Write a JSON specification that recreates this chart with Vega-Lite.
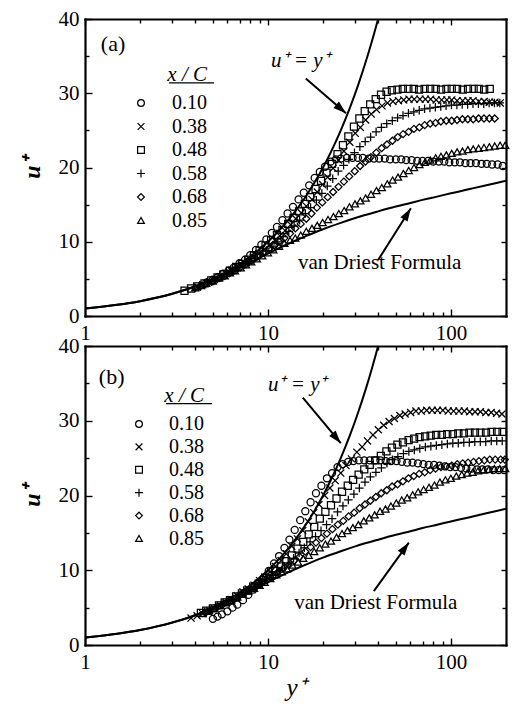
{
"$schema":"https://vega.github.io/schema/vega-lite/v6.json",
"background":"white",
"padding":{"left":20,"top":8,"right":8,"bottom":8},
"width":421,"height":626,
"datasets":{
"curves":[
{"c":"vd","y":1,"u":1.0},{"c":"vd","y":1.5,"u":1.5},{"c":"vd","y":2,"u":2.0},{"c":"vd","y":3,"u":2.99},{"c":"vd","y":4,"u":3.95},{"c":"vd","y":5,"u":4.88},{"c":"vd","y":6,"u":5.74},{"c":"vd","y":7,"u":6.52},{"c":"vd","y":8,"u":7.23},{"c":"vd","y":9,"u":7.86},{"c":"vd","y":10,"u":8.42},{"c":"vd","y":11,"u":8.91},{"c":"vd","y":12,"u":9.36},{"c":"vd","y":13,"u":9.76},{"c":"vd","y":14,"u":10.11},{"c":"vd","y":15,"u":10.44},{"c":"vd","y":16,"u":10.73},{"c":"vd","y":18,"u":11.25},{"c":"vd","y":20,"u":11.69},{"c":"vd","y":25,"u":12.54},{"c":"vd","y":30,"u":13.19},{"c":"vd","y":40,"u":14.09},{"c":"vd","y":50,"u":14.74},{"c":"vd","y":60,"u":15.22},{"c":"vd","y":70,"u":15.64},{"c":"vd","y":85,"u":16.11},{"c":"vd","y":100,"u":16.53},{"c":"vd","y":125,"u":17.06},{"c":"vd","y":150,"u":17.52},{"c":"vd","y":175,"u":17.89},{"c":"vd","y":200,"u":18.22},
{"c":"lin","y":1,"u":1},{"c":"lin","y":1.5,"u":1.5},{"c":"lin","y":2,"u":2},{"c":"lin","y":3,"u":3},{"c":"lin","y":4,"u":4},{"c":"lin","y":5,"u":5},{"c":"lin","y":6,"u":6},{"c":"lin","y":7,"u":7},{"c":"lin","y":8,"u":8},{"c":"lin","y":10,"u":10},{"c":"lin","y":12,"u":12},{"c":"lin","y":14,"u":14},{"c":"lin","y":16,"u":16},{"c":"lin","y":18,"u":18},{"c":"lin","y":20,"u":20},{"c":"lin","y":22,"u":22},{"c":"lin","y":25,"u":25},{"c":"lin","y":28,"u":28},{"c":"lin","y":31,"u":31},{"c":"lin","y":34,"u":34},{"c":"lin","y":37,"u":37},{"c":"lin","y":40,"u":40}
],
"a":[
{"s":"0.10","y":4.6,"u":4.5},{"s":"0.10","y":5,"u":4.9},{"s":"0.10","y":5.3,"u":5.2},{"s":"0.10","y":5.7,"u":5.7},{"s":"0.10","y":6.1,"u":6.1},{"s":"0.10","y":6.5,"u":6.5},{"s":"0.10","y":7,"u":7.1},{"s":"0.10","y":7.5,"u":7.6},{"s":"0.10","y":8,"u":8.2},{"s":"0.10","y":8.6,"u":8.9},{"s":"0.10","y":9.2,"u":9.6},{"s":"0.10","y":9.8,"u":10.3},{"s":"0.10","y":10.5,"u":11.2},{"s":"0.10","y":11.2,"u":12.0},{"s":"0.10","y":12,"u":12.9},{"s":"0.10","y":12.8,"u":13.8},{"s":"0.10","y":13.7,"u":14.7},{"s":"0.10","y":14.7,"u":15.7},{"s":"0.10","y":15.7,"u":16.6},{"s":"0.10","y":16.8,"u":17.6},{"s":"0.10","y":18,"u":18.6},{"s":"0.10","y":19.2,"u":19.4},{"s":"0.10","y":20.5,"u":20.1},{"s":"0.10","y":22,"u":20.8},{"s":"0.10","y":23.5,"u":21.1},{"s":"0.10","y":25,"u":21.2},{"s":"0.10","y":27,"u":21.3},{"s":"0.10","y":29,"u":21.3},{"s":"0.10","y":31,"u":21.3},{"s":"0.10","y":33,"u":21.3},{"s":"0.10","y":35.5,"u":21.2},{"s":"0.10","y":38,"u":21.2},{"s":"0.10","y":40.5,"u":21.2},{"s":"0.10","y":43.5,"u":21.2},{"s":"0.10","y":46.5,"u":21.1},{"s":"0.10","y":50,"u":21.1},{"s":"0.10","y":53.5,"u":21.1},{"s":"0.10","y":57,"u":21.0},{"s":"0.10","y":61,"u":21.0},{"s":"0.10","y":65.5,"u":20.9},{"s":"0.10","y":70,"u":20.9},{"s":"0.10","y":75,"u":20.9},{"s":"0.10","y":80,"u":20.8},{"s":"0.10","y":86,"u":20.8},{"s":"0.10","y":92,"u":20.8},{"s":"0.10","y":98,"u":20.7},{"s":"0.10","y":105,"u":20.7},{"s":"0.10","y":112,"u":20.7},{"s":"0.10","y":120,"u":20.6},{"s":"0.10","y":128,"u":20.6},{"s":"0.10","y":137,"u":20.6},{"s":"0.10","y":147,"u":20.5},{"s":"0.10","y":157,"u":20.5},{"s":"0.10","y":168,"u":20.4},{"s":"0.10","y":180,"u":20.4},{"s":"0.10","y":192,"u":20.2},
{"s":"0.38","y":4.1,"u":3.9},{"s":"0.38","y":4.4,"u":4.2},{"s":"0.38","y":4.8,"u":4.6},{"s":"0.38","y":5.1,"u":4.9},{"s":"0.38","y":5.5,"u":5.3},{"s":"0.38","y":5.9,"u":5.7},{"s":"0.38","y":6.3,"u":6.1},{"s":"0.38","y":6.8,"u":6.5},{"s":"0.38","y":7.2,"u":6.9},{"s":"0.38","y":7.8,"u":7.4},{"s":"0.38","y":8.3,"u":7.9},{"s":"0.38","y":8.9,"u":8.4},{"s":"0.38","y":9.5,"u":8.9},{"s":"0.38","y":10.2,"u":9.6},{"s":"0.38","y":10.9,"u":10.2},{"s":"0.38","y":11.6,"u":10.8},{"s":"0.38","y":12.4,"u":11.5},{"s":"0.38","y":13.3,"u":12.3},{"s":"0.38","y":14.2,"u":13.1},{"s":"0.38","y":15.2,"u":13.9},{"s":"0.38","y":16.2,"u":14.8},{"s":"0.38","y":17.4,"u":15.7},{"s":"0.38","y":18.6,"u":16.7},{"s":"0.38","y":19.9,"u":17.7},{"s":"0.38","y":21.2,"u":18.7},{"s":"0.38","y":22.7,"u":19.9},{"s":"0.38","y":24.3,"u":21.0},{"s":"0.38","y":26,"u":22.2},{"s":"0.38","y":28,"u":23.4},{"s":"0.38","y":30,"u":24.6},{"s":"0.38","y":32,"u":25.4},{"s":"0.38","y":34.2,"u":26.4},{"s":"0.38","y":36.7,"u":27.2},{"s":"0.38","y":39.2,"u":27.8},{"s":"0.38","y":42,"u":28.3},{"s":"0.38","y":45,"u":28.7},{"s":"0.38","y":48.2,"u":28.9},{"s":"0.38","y":51.7,"u":29.0},{"s":"0.38","y":55.2,"u":29.1},{"s":"0.38","y":59,"u":29.2},{"s":"0.38","y":63,"u":29.2},{"s":"0.38","y":67.7,"u":29.2},{"s":"0.38","y":72.5,"u":29.2},{"s":"0.38","y":77.5,"u":29.2},{"s":"0.38","y":83,"u":29.1},{"s":"0.38","y":89,"u":29.1},{"s":"0.38","y":95,"u":29.1},{"s":"0.38","y":101,"u":29.1},{"s":"0.38","y":108,"u":29.0},{"s":"0.38","y":116,"u":29.0},{"s":"0.38","y":124,"u":29.0},{"s":"0.38","y":132,"u":29.0},{"s":"0.38","y":142,"u":28.9},{"s":"0.38","y":152,"u":28.9},{"s":"0.38","y":162,"u":28.8},{"s":"0.38","y":174,"u":28.8},{"s":"0.38","y":186,"u":28.7},
{"s":"0.48","y":3.5,"u":3.4},{"s":"0.48","y":3.8,"u":3.7},{"s":"0.48","y":4.1,"u":4.0},{"s":"0.48","y":4.5,"u":4.4},{"s":"0.48","y":4.9,"u":4.8},{"s":"0.48","y":5.3,"u":5.2},{"s":"0.48","y":5.7,"u":5.6},{"s":"0.48","y":6.2,"u":6.1},{"s":"0.48","y":6.7,"u":6.6},{"s":"0.48","y":7.2,"u":7.0},{"s":"0.48","y":7.8,"u":7.6},{"s":"0.48","y":8.4,"u":8.2},{"s":"0.48","y":9,"u":8.8},{"s":"0.48","y":9.7,"u":9.5},{"s":"0.48","y":10.4,"u":10.2},{"s":"0.48","y":11.2,"u":10.9},{"s":"0.48","y":12,"u":11.6},{"s":"0.48","y":12.9,"u":12.4},{"s":"0.48","y":13.8,"u":13.2},{"s":"0.48","y":14.8,"u":14.1},{"s":"0.48","y":15.9,"u":15.1},{"s":"0.48","y":17,"u":16.0},{"s":"0.48","y":18.2,"u":17.1},{"s":"0.48","y":19.5,"u":18.2},{"s":"0.48","y":20.9,"u":19.3},{"s":"0.48","y":22.4,"u":20.5},{"s":"0.48","y":24,"u":21.8},{"s":"0.48","y":25.7,"u":23.0},{"s":"0.48","y":27.5,"u":24.2},{"s":"0.48","y":29.5,"u":25.5},{"s":"0.48","y":31.6,"u":26.6},{"s":"0.48","y":33.8,"u":27.6},{"s":"0.48","y":36.2,"u":28.5},{"s":"0.48","y":38.8,"u":29.2},{"s":"0.48","y":41.5,"u":29.8},{"s":"0.48","y":44.5,"u":30.2},{"s":"0.48","y":47.6,"u":30.4},{"s":"0.48","y":51,"u":30.5},{"s":"0.48","y":54.6,"u":30.6},{"s":"0.48","y":58.5,"u":30.6},{"s":"0.48","y":62.6,"u":30.6},{"s":"0.48","y":67,"u":30.5},{"s":"0.48","y":71.8,"u":30.6},{"s":"0.48","y":77,"u":30.6},{"s":"0.48","y":82.5,"u":30.6},{"s":"0.48","y":88.3,"u":30.5},{"s":"0.48","y":94.5,"u":30.6},{"s":"0.48","y":101,"u":30.6},{"s":"0.48","y":108,"u":30.6},{"s":"0.48","y":116,"u":30.5},{"s":"0.48","y":124,"u":30.6},{"s":"0.48","y":133,"u":30.6},{"s":"0.48","y":142,"u":30.6},{"s":"0.48","y":152,"u":30.5},{"s":"0.48","y":163,"u":30.6},
{"s":"0.58","y":4.2,"u":4.0},{"s":"0.58","y":4.5,"u":4.3},{"s":"0.58","y":4.9,"u":4.6},{"s":"0.58","y":5.2,"u":4.9},{"s":"0.58","y":5.6,"u":5.3},{"s":"0.58","y":6,"u":5.7},{"s":"0.58","y":6.4,"u":6.0},{"s":"0.58","y":6.9,"u":6.5},{"s":"0.58","y":7.4,"u":6.9},{"s":"0.58","y":7.9,"u":7.3},{"s":"0.58","y":8.5,"u":7.8},{"s":"0.58","y":9.1,"u":8.3},{"s":"0.58","y":9.8,"u":8.8},{"s":"0.58","y":10.5,"u":9.4},{"s":"0.58","y":11.3,"u":10.0},{"s":"0.58","y":12.1,"u":10.7},{"s":"0.58","y":13,"u":11.4},{"s":"0.58","y":13.9,"u":12.1},{"s":"0.58","y":14.9,"u":12.9},{"s":"0.58","y":16,"u":13.8},{"s":"0.58","y":17.1,"u":14.6},{"s":"0.58","y":18.4,"u":15.6},{"s":"0.58","y":19.7,"u":16.5},{"s":"0.58","y":21.1,"u":17.5},{"s":"0.58","y":22.6,"u":18.5},{"s":"0.58","y":24.2,"u":19.5},{"s":"0.58","y":25.9,"u":20.3},{"s":"0.58","y":27.7,"u":21.1},{"s":"0.58","y":29.7,"u":22.0},{"s":"0.58","y":31.8,"u":22.8},{"s":"0.58","y":34,"u":23.5},{"s":"0.58","y":36.4,"u":24.1},{"s":"0.58","y":39,"u":24.8},{"s":"0.58","y":41.7,"u":25.4},{"s":"0.58","y":44.6,"u":25.9},{"s":"0.58","y":47.8,"u":26.3},{"s":"0.58","y":51.1,"u":26.7},{"s":"0.58","y":54.7,"u":27.0},{"s":"0.58","y":58.6,"u":27.3},{"s":"0.58","y":62.7,"u":27.5},{"s":"0.58","y":67.1,"u":27.7},{"s":"0.58","y":71.8,"u":27.9},{"s":"0.58","y":76.8,"u":28.0},{"s":"0.58","y":82.2,"u":28.1},{"s":"0.58","y":88,"u":28.2},{"s":"0.58","y":94.1,"u":28.3},{"s":"0.58","y":100.7,"u":28.4},{"s":"0.58","y":107.8,"u":28.4},{"s":"0.58","y":115.3,"u":28.5},{"s":"0.58","y":123.4,"u":28.5},{"s":"0.58","y":132,"u":28.6},{"s":"0.58","y":141.3,"u":28.6},{"s":"0.58","y":151.2,"u":28.6},{"s":"0.58","y":161.8,"u":28.7},{"s":"0.58","y":173,"u":28.7},{"s":"0.58","y":185,"u":28.7},
{"s":"0.68","y":4,"u":3.8},{"s":"0.68","y":4.3,"u":4.1},{"s":"0.68","y":4.7,"u":4.5},{"s":"0.68","y":5,"u":4.7},{"s":"0.68","y":5.4,"u":5.1},{"s":"0.68","y":5.8,"u":5.4},{"s":"0.68","y":6.2,"u":5.8},{"s":"0.68","y":6.7,"u":6.2},{"s":"0.68","y":7.1,"u":6.6},{"s":"0.68","y":7.6,"u":7.0},{"s":"0.68","y":8.2,"u":7.5},{"s":"0.68","y":8.8,"u":8.0},{"s":"0.68","y":9.4,"u":8.5},{"s":"0.68","y":10.1,"u":9.0},{"s":"0.68","y":10.8,"u":9.5},{"s":"0.68","y":11.5,"u":10.0},{"s":"0.68","y":12.3,"u":10.5},{"s":"0.68","y":13.2,"u":11.1},{"s":"0.68","y":14.1,"u":11.8},{"s":"0.68","y":15.1,"u":12.4},{"s":"0.68","y":16.2,"u":13.1},{"s":"0.68","y":17.3,"u":13.8},{"s":"0.68","y":18.5,"u":14.6},{"s":"0.68","y":19.8,"u":15.3},{"s":"0.68","y":21.2,"u":16.0},{"s":"0.68","y":22.7,"u":16.7},{"s":"0.68","y":24.3,"u":17.4},{"s":"0.68","y":26,"u":18.1},{"s":"0.68","y":27.8,"u":18.8},{"s":"0.68","y":29.8,"u":19.5},{"s":"0.68","y":31.9,"u":20.2},{"s":"0.68","y":34.1,"u":20.8},{"s":"0.68","y":36.5,"u":21.4},{"s":"0.68","y":39.1,"u":22.0},{"s":"0.68","y":41.8,"u":22.6},{"s":"0.68","y":44.7,"u":23.1},{"s":"0.68","y":47.9,"u":23.6},{"s":"0.68","y":51.2,"u":24.1},{"s":"0.68","y":54.8,"u":24.5},{"s":"0.68","y":58.7,"u":24.8},{"s":"0.68","y":62.8,"u":25.2},{"s":"0.68","y":67.2,"u":25.4},{"s":"0.68","y":71.9,"u":25.7},{"s":"0.68","y":77,"u":25.9},{"s":"0.68","y":82.4,"u":26.0},{"s":"0.68","y":88.1,"u":26.2},{"s":"0.68","y":94.3,"u":26.3},{"s":"0.68","y":101,"u":26.3},{"s":"0.68","y":108,"u":26.4},{"s":"0.68","y":115.6,"u":26.5},{"s":"0.68","y":123.7,"u":26.5},{"s":"0.68","y":132.4,"u":26.5},{"s":"0.68","y":141.7,"u":26.6},{"s":"0.68","y":151.6,"u":26.6},{"s":"0.68","y":162.2,"u":26.6},{"s":"0.68","y":173.5,"u":26.6},
{"s":"0.85","y":4,"u":3.8},{"s":"0.85","y":4.3,"u":4.1},{"s":"0.85","y":4.6,"u":4.4},{"s":"0.85","y":5,"u":4.7},{"s":"0.85","y":5.4,"u":5.1},{"s":"0.85","y":5.8,"u":5.4},{"s":"0.85","y":6.2,"u":5.8},{"s":"0.85","y":6.6,"u":6.1},{"s":"0.85","y":7.1,"u":6.5},{"s":"0.85","y":7.6,"u":6.9},{"s":"0.85","y":8.1,"u":7.3},{"s":"0.85","y":8.7,"u":7.7},{"s":"0.85","y":9.3,"u":8.1},{"s":"0.85","y":10,"u":8.5},{"s":"0.85","y":10.7,"u":8.9},{"s":"0.85","y":11.5,"u":9.4},{"s":"0.85","y":12.3,"u":9.8},{"s":"0.85","y":13.2,"u":10.2},{"s":"0.85","y":14.1,"u":10.5},{"s":"0.85","y":15.1,"u":10.9},{"s":"0.85","y":16.2,"u":11.4},{"s":"0.85","y":17.4,"u":11.8},{"s":"0.85","y":18.6,"u":12.2},{"s":"0.85","y":19.9,"u":12.6},{"s":"0.85","y":21.3,"u":13.0},{"s":"0.85","y":22.8,"u":13.4},{"s":"0.85","y":24.4,"u":13.8},{"s":"0.85","y":26.1,"u":14.2},{"s":"0.85","y":27.9,"u":14.7},{"s":"0.85","y":29.9,"u":15.1},{"s":"0.85","y":32,"u":15.5},{"s":"0.85","y":34.2,"u":15.9},{"s":"0.85","y":36.6,"u":16.4},{"s":"0.85","y":39.2,"u":16.9},{"s":"0.85","y":41.9,"u":17.3},{"s":"0.85","y":44.9,"u":17.8},{"s":"0.85","y":48,"u":18.3},{"s":"0.85","y":51.4,"u":18.7},{"s":"0.85","y":55,"u":19.2},{"s":"0.85","y":58.8,"u":19.6},{"s":"0.85","y":62.9,"u":20.0},{"s":"0.85","y":67.3,"u":20.4},{"s":"0.85","y":72,"u":20.7},{"s":"0.85","y":77.1,"u":21.0},{"s":"0.85","y":82.5,"u":21.3},{"s":"0.85","y":88.2,"u":21.5},{"s":"0.85","y":94.4,"u":21.7},{"s":"0.85","y":101,"u":21.9},{"s":"0.85","y":108.1,"u":22.1},{"s":"0.85","y":115.7,"u":22.2},{"s":"0.85","y":123.8,"u":22.4},{"s":"0.85","y":132.5,"u":22.5},{"s":"0.85","y":141.7,"u":22.6},{"s":"0.85","y":151.7,"u":22.7},{"s":"0.85","y":162.3,"u":22.8},{"s":"0.85","y":173.6,"u":22.9},{"s":"0.85","y":185.8,"u":23.0},{"s":"0.85","y":198,"u":23.0}
],
"b":[
{"s":"0.10","y":5,"u":3.5},{"s":"0.10","y":5.3,"u":3.8},{"s":"0.10","y":5.6,"u":4.1},{"s":"0.10","y":6,"u":4.5},{"s":"0.10","y":6.4,"u":5.0},{"s":"0.10","y":6.8,"u":5.4},{"s":"0.10","y":7.3,"u":6.0},{"s":"0.10","y":7.8,"u":6.7},{"s":"0.10","y":8.3,"u":7.4},{"s":"0.10","y":8.9,"u":8.2},{"s":"0.10","y":9.5,"u":9.0},{"s":"0.10","y":10.1,"u":9.9},{"s":"0.10","y":10.8,"u":10.9},{"s":"0.10","y":11.5,"u":11.9},{"s":"0.10","y":12.3,"u":13.0},{"s":"0.10","y":13.1,"u":14.1},{"s":"0.10","y":14,"u":15.4},{"s":"0.10","y":15,"u":16.7},{"s":"0.10","y":16,"u":17.9},{"s":"0.10","y":17.1,"u":19.1},{"s":"0.10","y":18.3,"u":20.3},{"s":"0.10","y":19.6,"u":21.3},{"s":"0.10","y":21,"u":22.3},{"s":"0.10","y":22.4,"u":23.0},{"s":"0.10","y":24,"u":23.8},{"s":"0.10","y":25.6,"u":24.2},{"s":"0.10","y":27.4,"u":24.5},{"s":"0.10","y":29.3,"u":24.6},{"s":"0.10","y":31.4,"u":24.7},{"s":"0.10","y":33.6,"u":24.7},{"s":"0.10","y":36,"u":24.7},{"s":"0.10","y":38.5,"u":24.7},{"s":"0.10","y":41.2,"u":24.7},{"s":"0.10","y":44,"u":24.6},{"s":"0.10","y":47.1,"u":24.6},{"s":"0.10","y":50.4,"u":24.6},{"s":"0.10","y":53.9,"u":24.5},{"s":"0.10","y":57.7,"u":24.4},{"s":"0.10","y":61.7,"u":24.4},{"s":"0.10","y":66,"u":24.3},{"s":"0.10","y":70.7,"u":24.2},{"s":"0.10","y":75.6,"u":24.1},{"s":"0.10","y":80.9,"u":24.1},{"s":"0.10","y":86.6,"u":24.0},{"s":"0.10","y":92.6,"u":23.9},{"s":"0.10","y":99.1,"u":23.8},{"s":"0.10","y":106,"u":23.8},{"s":"0.10","y":113.5,"u":23.7},{"s":"0.10","y":121.4,"u":23.6},{"s":"0.10","y":129.9,"u":23.6},{"s":"0.10","y":139,"u":23.5},{"s":"0.10","y":148.8,"u":23.5},{"s":"0.10","y":159.2,"u":23.5},{"s":"0.10","y":170.3,"u":23.4},{"s":"0.10","y":182.3,"u":23.4},{"s":"0.10","y":195,"u":23.4},
{"s":"0.38","y":3.8,"u":3.6},{"s":"0.38","y":4.1,"u":3.9},{"s":"0.38","y":4.4,"u":4.2},{"s":"0.38","y":4.8,"u":4.6},{"s":"0.38","y":5.1,"u":4.9},{"s":"0.38","y":5.5,"u":5.3},{"s":"0.38","y":5.9,"u":5.7},{"s":"0.38","y":6.3,"u":6.1},{"s":"0.38","y":6.8,"u":6.6},{"s":"0.38","y":7.3,"u":7.1},{"s":"0.38","y":7.8,"u":7.5},{"s":"0.38","y":8.4,"u":8.0},{"s":"0.38","y":9,"u":8.6},{"s":"0.38","y":9.6,"u":9.1},{"s":"0.38","y":10.3,"u":9.8},{"s":"0.38","y":11,"u":10.5},{"s":"0.38","y":11.8,"u":11.3},{"s":"0.38","y":12.6,"u":12.2},{"s":"0.38","y":13.5,"u":13.2},{"s":"0.38","y":14.5,"u":14.2},{"s":"0.38","y":15.5,"u":15.3},{"s":"0.38","y":16.6,"u":16.5},{"s":"0.38","y":17.8,"u":17.7},{"s":"0.38","y":19,"u":18.8},{"s":"0.38","y":20.4,"u":20.0},{"s":"0.38","y":21.8,"u":21.0},{"s":"0.38","y":23.3,"u":22.0},{"s":"0.38","y":25,"u":23.0},{"s":"0.38","y":26.7,"u":24.0},{"s":"0.38","y":28.6,"u":24.9},{"s":"0.38","y":30.6,"u":25.8},{"s":"0.38","y":32.7,"u":26.5},{"s":"0.38","y":35,"u":27.3},{"s":"0.38","y":37.5,"u":28.1},{"s":"0.38","y":40.1,"u":28.8},{"s":"0.38","y":42.9,"u":29.4},{"s":"0.38","y":45.9,"u":29.9},{"s":"0.38","y":49.1,"u":30.3},{"s":"0.38","y":52.6,"u":30.7},{"s":"0.38","y":56.2,"u":30.9},{"s":"0.38","y":60.2,"u":31.1},{"s":"0.38","y":64.4,"u":31.3},{"s":"0.38","y":68.9,"u":31.3},{"s":"0.38","y":73.7,"u":31.4},{"s":"0.38","y":78.9,"u":31.4},{"s":"0.38","y":84.4,"u":31.4},{"s":"0.38","y":90.3,"u":31.4},{"s":"0.38","y":96.6,"u":31.3},{"s":"0.38","y":103.4,"u":31.3},{"s":"0.38","y":110.6,"u":31.3},{"s":"0.38","y":118.4,"u":31.3},{"s":"0.38","y":126.6,"u":31.2},{"s":"0.38","y":135.5,"u":31.2},{"s":"0.38","y":145,"u":31.2},{"s":"0.38","y":155.1,"u":31.1},{"s":"0.38","y":166,"u":31.1},{"s":"0.38","y":177.6,"u":31.0},{"s":"0.38","y":190,"u":30.9},
{"s":"0.48","y":4.3,"u":4.3},{"s":"0.48","y":4.6,"u":4.6},{"s":"0.48","y":5,"u":4.9},{"s":"0.48","y":5.4,"u":5.3},{"s":"0.48","y":5.8,"u":5.7},{"s":"0.48","y":6.2,"u":6.0},{"s":"0.48","y":6.7,"u":6.5},{"s":"0.48","y":7.2,"u":6.9},{"s":"0.48","y":7.7,"u":7.3},{"s":"0.48","y":8.3,"u":7.8},{"s":"0.48","y":8.9,"u":8.2},{"s":"0.48","y":9.5,"u":8.7},{"s":"0.48","y":10.2,"u":9.3},{"s":"0.48","y":11,"u":9.9},{"s":"0.48","y":11.8,"u":10.5},{"s":"0.48","y":12.6,"u":11.2},{"s":"0.48","y":13.5,"u":12.0},{"s":"0.48","y":14.5,"u":12.9},{"s":"0.48","y":15.6,"u":13.8},{"s":"0.48","y":16.7,"u":14.8},{"s":"0.48","y":17.9,"u":15.8},{"s":"0.48","y":19.2,"u":16.9},{"s":"0.48","y":20.6,"u":17.8},{"s":"0.48","y":22.1,"u":18.7},{"s":"0.48","y":23.7,"u":19.6},{"s":"0.48","y":25.4,"u":20.5},{"s":"0.48","y":27.3,"u":21.3},{"s":"0.48","y":29.2,"u":22.1},{"s":"0.48","y":31.3,"u":22.8},{"s":"0.48","y":33.6,"u":23.5},{"s":"0.48","y":36,"u":24.1},{"s":"0.48","y":38.6,"u":24.7},{"s":"0.48","y":41.4,"u":25.3},{"s":"0.48","y":44.4,"u":25.9},{"s":"0.48","y":47.6,"u":26.4},{"s":"0.48","y":51,"u":26.8},{"s":"0.48","y":54.7,"u":27.1},{"s":"0.48","y":58.7,"u":27.4},{"s":"0.48","y":62.9,"u":27.6},{"s":"0.48","y":67.4,"u":27.8},{"s":"0.48","y":72.3,"u":27.9},{"s":"0.48","y":77.5,"u":28.0},{"s":"0.48","y":83.1,"u":28.1},{"s":"0.48","y":89.1,"u":28.1},{"s":"0.48","y":95.5,"u":28.2},{"s":"0.48","y":102.4,"u":28.2},{"s":"0.48","y":109.8,"u":28.3},{"s":"0.48","y":117.7,"u":28.3},{"s":"0.48","y":126.2,"u":28.4},{"s":"0.48","y":135.3,"u":28.4},{"s":"0.48","y":145,"u":28.4},{"s":"0.48","y":155.5,"u":28.4},{"s":"0.48","y":166.7,"u":28.5},{"s":"0.48","y":178.7,"u":28.5},{"s":"0.48","y":191.6,"u":28.5},
{"s":"0.58","y":4.5,"u":4.4},{"s":"0.58","y":4.8,"u":4.7},{"s":"0.58","y":5.2,"u":5.1},{"s":"0.58","y":5.6,"u":5.4},{"s":"0.58","y":6,"u":5.8},{"s":"0.58","y":6.4,"u":6.1},{"s":"0.58","y":6.9,"u":6.5},{"s":"0.58","y":7.4,"u":6.9},{"s":"0.58","y":7.9,"u":7.3},{"s":"0.58","y":8.5,"u":7.8},{"s":"0.58","y":9.1,"u":8.2},{"s":"0.58","y":9.8,"u":8.7},{"s":"0.58","y":10.5,"u":9.3},{"s":"0.58","y":11.2,"u":9.8},{"s":"0.58","y":12,"u":10.3},{"s":"0.58","y":12.9,"u":11.0},{"s":"0.58","y":13.8,"u":11.6},{"s":"0.58","y":14.8,"u":12.3},{"s":"0.58","y":15.8,"u":13.0},{"s":"0.58","y":17,"u":13.8},{"s":"0.58","y":18.2,"u":14.5},{"s":"0.58","y":19.5,"u":15.3},{"s":"0.58","y":20.9,"u":16.1},{"s":"0.58","y":22.4,"u":16.9},{"s":"0.58","y":24,"u":17.8},{"s":"0.58","y":25.7,"u":18.6},{"s":"0.58","y":27.5,"u":19.4},{"s":"0.58","y":29.5,"u":20.2},{"s":"0.58","y":31.6,"u":21.0},{"s":"0.58","y":33.9,"u":21.8},{"s":"0.58","y":36.3,"u":22.5},{"s":"0.58","y":38.9,"u":23.1},{"s":"0.58","y":41.7,"u":23.7},{"s":"0.58","y":44.7,"u":24.3},{"s":"0.58","y":47.9,"u":24.8},{"s":"0.58","y":51.3,"u":25.2},{"s":"0.58","y":55,"u":25.6},{"s":"0.58","y":58.9,"u":25.9},{"s":"0.58","y":63.1,"u":26.1},{"s":"0.58","y":67.6,"u":26.3},{"s":"0.58","y":72.5,"u":26.5},{"s":"0.58","y":77.7,"u":26.6},{"s":"0.58","y":83.2,"u":26.7},{"s":"0.58","y":89.2,"u":26.8},{"s":"0.58","y":95.6,"u":26.9},{"s":"0.58","y":102.4,"u":27.0},{"s":"0.58","y":109.7,"u":27.0},{"s":"0.58","y":117.6,"u":27.1},{"s":"0.58","y":126,"u":27.1},{"s":"0.58","y":135,"u":27.2},{"s":"0.58","y":144.7,"u":27.2},{"s":"0.58","y":155,"u":27.2},{"s":"0.58","y":166.1,"u":27.3},{"s":"0.58","y":178,"u":27.3},{"s":"0.58","y":190.7,"u":27.3},
{"s":"0.68","y":4.6,"u":4.4},{"s":"0.68","y":4.9,"u":4.7},{"s":"0.68","y":5.3,"u":5.1},{"s":"0.68","y":5.7,"u":5.5},{"s":"0.68","y":6.1,"u":5.9},{"s":"0.68","y":6.5,"u":6.2},{"s":"0.68","y":7,"u":6.6},{"s":"0.68","y":7.5,"u":7.0},{"s":"0.68","y":8,"u":7.4},{"s":"0.68","y":8.6,"u":7.8},{"s":"0.68","y":9.2,"u":8.3},{"s":"0.68","y":9.9,"u":8.7},{"s":"0.68","y":10.6,"u":9.2},{"s":"0.68","y":11.3,"u":9.7},{"s":"0.68","y":12.1,"u":10.2},{"s":"0.68","y":13,"u":10.7},{"s":"0.68","y":13.9,"u":11.3},{"s":"0.68","y":14.9,"u":11.8},{"s":"0.68","y":16,"u":12.5},{"s":"0.68","y":17.1,"u":13.1},{"s":"0.68","y":18.3,"u":13.7},{"s":"0.68","y":19.6,"u":14.3},{"s":"0.68","y":21,"u":14.9},{"s":"0.68","y":22.5,"u":15.5},{"s":"0.68","y":24.1,"u":16.1},{"s":"0.68","y":25.8,"u":16.6},{"s":"0.68","y":27.6,"u":17.2},{"s":"0.68","y":29.6,"u":17.7},{"s":"0.68","y":31.7,"u":18.3},{"s":"0.68","y":33.9,"u":18.8},{"s":"0.68","y":36.3,"u":19.3},{"s":"0.68","y":38.9,"u":19.8},{"s":"0.68","y":41.6,"u":20.3},{"s":"0.68","y":44.6,"u":20.7},{"s":"0.68","y":47.7,"u":21.2},{"s":"0.68","y":51.1,"u":21.5},{"s":"0.68","y":54.7,"u":21.9},{"s":"0.68","y":58.6,"u":22.3},{"s":"0.68","y":62.7,"u":22.6},{"s":"0.68","y":67.1,"u":22.9},{"s":"0.68","y":71.9,"u":23.1},{"s":"0.68","y":77,"u":23.4},{"s":"0.68","y":82.4,"u":23.6},{"s":"0.68","y":88.2,"u":23.8},{"s":"0.68","y":94.5,"u":23.9},{"s":"0.68","y":101.1,"u":24.0},{"s":"0.68","y":108.3,"u":24.2},{"s":"0.68","y":116,"u":24.3},{"s":"0.68","y":124.1,"u":24.4},{"s":"0.68","y":132.9,"u":24.5},{"s":"0.68","y":142.3,"u":24.6},{"s":"0.68","y":152.3,"u":24.7},{"s":"0.68","y":163.1,"u":24.8},{"s":"0.68","y":174.6,"u":24.8},{"s":"0.68","y":187,"u":24.8},{"s":"0.68","y":197,"u":24.8},
{"s":"0.85","y":4.4,"u":4.2},{"s":"0.85","y":4.7,"u":4.5},{"s":"0.85","y":5.1,"u":4.9},{"s":"0.85","y":5.5,"u":5.3},{"s":"0.85","y":5.9,"u":5.7},{"s":"0.85","y":6.3,"u":6.0},{"s":"0.85","y":6.8,"u":6.4},{"s":"0.85","y":7.3,"u":6.8},{"s":"0.85","y":7.8,"u":7.2},{"s":"0.85","y":8.4,"u":7.6},{"s":"0.85","y":9,"u":8.0},{"s":"0.85","y":9.6,"u":8.4},{"s":"0.85","y":10.3,"u":8.9},{"s":"0.85","y":11.1,"u":9.4},{"s":"0.85","y":11.9,"u":9.8},{"s":"0.85","y":12.7,"u":10.2},{"s":"0.85","y":13.6,"u":10.7},{"s":"0.85","y":14.6,"u":11.1},{"s":"0.85","y":15.6,"u":11.6},{"s":"0.85","y":16.7,"u":12.0},{"s":"0.85","y":17.9,"u":12.5},{"s":"0.85","y":19.2,"u":13.0},{"s":"0.85","y":20.6,"u":13.5},{"s":"0.85","y":22.1,"u":13.9},{"s":"0.85","y":23.7,"u":14.4},{"s":"0.85","y":25.4,"u":14.9},{"s":"0.85","y":27.2,"u":15.3},{"s":"0.85","y":29.1,"u":15.7},{"s":"0.85","y":31.2,"u":16.1},{"s":"0.85","y":33.4,"u":16.6},{"s":"0.85","y":35.8,"u":17.0},{"s":"0.85","y":38.3,"u":17.4},{"s":"0.85","y":41,"u":17.9},{"s":"0.85","y":43.9,"u":18.2},{"s":"0.85","y":47,"u":18.6},{"s":"0.85","y":50.3,"u":19.0},{"s":"0.85","y":53.9,"u":19.4},{"s":"0.85","y":57.7,"u":19.7},{"s":"0.85","y":61.8,"u":20.1},{"s":"0.85","y":66.2,"u":20.5},{"s":"0.85","y":70.9,"u":20.8},{"s":"0.85","y":75.9,"u":21.1},{"s":"0.85","y":81.3,"u":21.4},{"s":"0.85","y":87.1,"u":21.8},{"s":"0.85","y":93.3,"u":22.1},{"s":"0.85","y":99.9,"u":22.3},{"s":"0.85","y":107,"u":22.6},{"s":"0.85","y":114.6,"u":22.8},{"s":"0.85","y":122.7,"u":23.0},{"s":"0.85","y":131.4,"u":23.1},{"s":"0.85","y":140.7,"u":23.3},{"s":"0.85","y":150.7,"u":23.4},{"s":"0.85","y":161.4,"u":23.5},{"s":"0.85","y":172.8,"u":23.6},{"s":"0.85","y":185,"u":23.6},{"s":"0.85","y":198,"u":23.6}
]
},
"layer":[
{"data":{"name":"a"},
 "mark":{"type":"point","filled":false,"size":50,"strokeWidth":1.25,"color":"black","opacity":1},
 "encoding":{
  "x":{"field":"y","type":"quantitative","scale":{"type":"log","domain":[1,200],"nice":false},
       "axis":{"orient":"bottom","offset":-329,"values":[1,10,100],"tickSize":-7,"tickColor":"black","tickWidth":1.4,"labelPadding":13,"title":null,"format":"d","domain":true,"domainColor":"black","domainWidth":2.2,"domainCap":"square"}},
  "y":{"field":"u","type":"quantitative","scale":{"domain":[0,40],"nice":false,"zero":false,"range":[297,0]},
       "axis":{"orient":"left","values":[0,10,20,30,40],"tickSize":-7,"tickColor":"black","tickWidth":1.4,"labelPadding":13,"format":"d","title":"u⁺","titleFontSize":24,"titleFontStyle":"italic","titleFontWeight":"bold","titlePadding":14,"domain":true,"domainColor":"black","domainWidth":2.2,"domainCap":"square"}},
  "shape":{"field":"s","type":"nominal",
    "scale":{"domain":["0.10","0.38","0.48","0.58","0.68","0.85"],"range":["circle","M-1,-1L1,1M-1,1L1,-1","square","M0,-1.2L0,1.2M-1.2,0L1.2,0","diamond","triangle-up"]},
    "legend":{"orient":"none","legendX":46,"legendY":45,"title":"x / C","titleFont":"Liberation Serif","titleFontSize":21,"titleFontStyle":"italic","titleFontWeight":"normal","titleColor":"black","titleAnchor":"end","titlePadding":8,"labelFont":"Liberation Serif","labelFontSize":20,"labelColor":"black","labelOffset":21,"symbolSize":46,"symbolStrokeWidth":1.2,"symbolStrokeColor":"black","rowPadding":3.5,"padding":0}}
 }},
{"data":{"name":"curves"},
 "mark":{"type":"line","color":"black","strokeWidth":2,"interpolate":"monotone"},
 "encoding":{
  "x":{"field":"y","type":"quantitative","scale":{"type":"log","domain":[1,200],"nice":false},
       "axis":{"orient":"bottom","offset":-329,"values":[2,3,4,5,6,7,8,9,20,30,40,50,60,70,80,90],"tickSize":-4,"tickColor":"black","tickWidth":1.4,"labels":false,"title":null,"domain":false}},
  "y":{"field":"u","type":"quantitative","scale":{"domain":[0,40],"nice":false,"zero":false,"range":[297,0]},
       "axis":{"orient":"left","values":[5,15,25,35],"tickSize":-4,"tickColor":"black","tickWidth":1.4,"labels":false,"title":null,"domain":false}},
  "detail":{"field":"c"}
 }},
{"data":{"values":[{}]},
 "mark":{"type":"rule","color":"black","strokeWidth":1.2},
 "encoding":{
  "x":{"datum":2.88,"type":"quantitative","axis":{"orient":"top","values":[1,10,100],"tickSize":-6,"tickColor":"black","tickWidth":1.4,"labels":false,"title":null,"domain":true,"domainColor":"black","domainWidth":2.2,"domainCap":"square"}},
  "x2":{"datum":5.07},
  "y":{"datum":31.4,"type":"quantitative","scale":{"domain":[0,40],"nice":false,"zero":false,"range":[297,0]},"axis":{"orient":"right","values":[0,10,20,30,40],"tickSize":-5,"tickColor":"black","tickWidth":1.4,"labels":false,"title":null,"domain":true,"domainColor":"black","domainWidth":2.2,"domainCap":"square"}}
 }},
{"data":{"values":[{}]},
 "mark":{"type":"text","font":"Liberation Serif","fontSize":22,"align":"left","baseline":"middle","color":"black"},
 "encoding":{
  "x":{"datum":1.22,"type":"quantitative","axis":{"orient":"top","values":[2,3,4,5,6,7,8,9,20,30,40,50,60,70,80,90],"tickSize":-4,"tickColor":"black","tickWidth":1.4,"labels":false,"title":null,"domain":false}},
  "y":{"datum":36.6,"type":"quantitative","scale":{"domain":[0,40],"nice":false,"zero":false,"range":[297,0]},"axis":{"orient":"right","values":[5,15,25,35],"tickSize":-4,"tickColor":"black","tickWidth":1.4,"labels":false,"title":null,"domain":false}},
  "text":{"value":"(a)"}
 }},
{"data":{"values":[{}]},
 "mark":{"type":"text","font":"Liberation Serif","fontSize":21,"fontStyle":"italic","align":"left","baseline":"middle","color":"black"},
 "encoding":{"x":{"datum":10.4,"type":"quantitative","axis":null},"y":{"datum":34.3,"type":"quantitative","scale":{"domain":[0,40],"nice":false,"zero":false,"range":[297,0]},"axis":null},"text":{"value":"u⁺ = y⁺"}}},
{"data":{"values":[{}]},
 "mark":{"type":"text","font":"Liberation Serif","fontSize":21,"align":"left","baseline":"middle","color":"black"},
 "encoding":{"x":{"datum":14.6,"type":"quantitative","axis":null},"y":{"datum":7.1,"type":"quantitative","scale":{"domain":[0,40],"nice":false,"zero":false,"range":[297,0]},"axis":null},"text":{"value":"van Driest Formula"}}},
{"data":{"values":[{}]},
 "mark":{"type":"rule","color":"black","strokeWidth":2},
 "encoding":{"x":{"datum":16.1,"type":"quantitative","axis":null},"x2":{"datum":26.7},"y":{"datum":32.0,"type":"quantitative","scale":{"domain":[0,40],"nice":false,"zero":false,"range":[297,0]},"axis":null},"y2":{"datum":27.3}}},
{"data":{"values":[{}]},
 "mark":{"type":"point","shape":"M0,0L-0.55,1.7L0.55,1.7Z","filled":true,"size":234,"color":"black","opacity":1,"angle":131},
 "encoding":{"x":{"datum":26.7,"type":"quantitative","axis":null},"y":{"datum":27.3,"type":"quantitative","scale":{"domain":[0,40],"nice":false,"zero":false,"range":[297,0]},"axis":null}}},
{"data":{"values":[{}]},
 "mark":{"type":"rule","color":"black","strokeWidth":2},
 "encoding":{"x":{"datum":39.9,"type":"quantitative","axis":null},"x2":{"datum":60.4},"y":{"datum":7.5,"type":"quantitative","scale":{"domain":[0,40],"nice":false,"zero":false,"range":[297,0]},"axis":null},"y2":{"datum":14.5}}},
{"data":{"values":[{}]},
 "mark":{"type":"point","shape":"M0,0L-0.55,1.7L0.55,1.7Z","filled":true,"size":234,"color":"black","opacity":1,"angle":32},
 "encoding":{"x":{"datum":60.4,"type":"quantitative","axis":null},"y":{"datum":14.5,"type":"quantitative","scale":{"domain":[0,40],"nice":false,"zero":false,"range":[297,0]},"axis":null}}},
{"data":{"name":"b"},
 "mark":{"type":"point","filled":false,"size":50,"strokeWidth":1.25,"color":"black","opacity":1},
 "encoding":{
  "x":{"field":"y","type":"quantitative","scale":{"type":"log","domain":[1,200],"nice":false},
       "axis":{"orient":"bottom","values":[1,10,100],"tickSize":-7,"tickColor":"black","tickWidth":1.4,"labelPadding":13,"format":"d","title":"y⁺","titleFontSize":25,"titleFontStyle":"italic","titleFontWeight":"normal","titlePadding":3,"domain":true,"domainColor":"black","domainWidth":2.2,"domainCap":"square"}},
  "y":{"field":"u","type":"quantitative","scale":{"domain":[0,40],"nice":false,"zero":false,"range":[626,327]},
       "axis":{"orient":"left","values":[0,10,20,30,40],"tickSize":-7,"tickColor":"black","tickWidth":1.4,"labelPadding":13,"format":"d","title":"u⁺","titleFontSize":24,"titleFontStyle":"italic","titleFontWeight":"bold","titlePadding":14,"domain":true,"domainColor":"black","domainWidth":2.2,"domainCap":"square"}},
  "shape":{"field":"s","type":"nominal",
    "scale":{"domain":["0.10","0.38","0.48","0.58","0.68","0.85"],"range":["circle","M-1,-1L1,1M-1,1L1,-1","square","M0,-1.2L0,1.2M-1.2,0L1.2,0","diamond","triangle-up"]},
    "legend":{"orient":"none","legendX":44,"legendY":366,"title":"x / C","titleFont":"Liberation Serif","titleFontSize":21,"titleFontStyle":"italic","titleFontWeight":"normal","titleColor":"black","titleAnchor":"end","titlePadding":8,"labelFont":"Liberation Serif","labelFontSize":20,"labelColor":"black","labelOffset":20,"symbolSize":46,"symbolStrokeWidth":1.2,"symbolStrokeColor":"black","rowPadding":2.9,"padding":0}}
 }},
{"data":{"name":"curves"},
 "mark":{"type":"line","color":"black","strokeWidth":2,"interpolate":"monotone"},
 "encoding":{
  "x":{"field":"y","type":"quantitative","scale":{"type":"log","domain":[1,200],"nice":false},
       "axis":{"orient":"bottom","values":[2,3,4,5,6,7,8,9,20,30,40,50,60,70,80,90],"tickSize":-4,"tickColor":"black","tickWidth":1.4,"labels":false,"title":null,"domain":false}},
  "y":{"field":"u","type":"quantitative","scale":{"domain":[0,40],"nice":false,"zero":false,"range":[626,327]},
       "axis":{"orient":"left","values":[5,15,25,35],"tickSize":-4,"tickColor":"black","tickWidth":1.4,"labels":false,"title":null,"domain":false}},
  "detail":{"field":"c"}
 }},
{"data":{"values":[{}]},
 "mark":{"type":"rule","color":"black","strokeWidth":1.2},
 "encoding":{
  "x":{"datum":2.77,"type":"quantitative","axis":{"orient":"top","offset":-327,"values":[1,10,100],"tickSize":-6,"tickColor":"black","tickWidth":1.4,"labels":false,"title":null,"domain":true,"domainColor":"black","domainWidth":2.2,"domainCap":"square"}},
  "x2":{"datum":4.94},
  "y":{"datum":32.3,"type":"quantitative","scale":{"domain":[0,40],"nice":false,"zero":false,"range":[626,327]},"axis":{"orient":"right","values":[0,10,20,30,40],"tickSize":-5,"tickColor":"black","tickWidth":1.4,"labels":false,"title":null,"domain":true,"domainColor":"black","domainWidth":2.2,"domainCap":"square"}}
 }},
{"data":{"values":[{}]},
 "mark":{"type":"text","font":"Liberation Serif","fontSize":22,"align":"left","baseline":"middle","color":"black"},
 "encoding":{
  "x":{"datum":1.19,"type":"quantitative","axis":{"orient":"top","offset":-327,"values":[2,3,4,5,6,7,8,9,20,30,40,50,60,70,80,90],"tickSize":-4,"tickColor":"black","tickWidth":1.4,"labels":false,"title":null,"domain":false}},
  "y":{"datum":35.9,"type":"quantitative","scale":{"domain":[0,40],"nice":false,"zero":false,"range":[626,327]},"axis":{"orient":"right","values":[5,15,25,35],"tickSize":-4,"tickColor":"black","tickWidth":1.4,"labels":false,"title":null,"domain":false}},
  "text":{"value":"(b)"}
 }},
{"data":{"values":[{}]},
 "mark":{"type":"text","font":"Liberation Serif","fontSize":21,"fontStyle":"italic","align":"left","baseline":"middle","color":"black"},
 "encoding":{"x":{"datum":10.0,"type":"quantitative","axis":null},"y":{"datum":34.8,"type":"quantitative","scale":{"domain":[0,40],"nice":false,"zero":false,"range":[626,327]},"axis":null},"text":{"value":"u⁺ = y⁺"}}},
{"data":{"values":[{}]},
 "mark":{"type":"text","font":"Liberation Serif","fontSize":21,"align":"left","baseline":"middle","color":"black"},
 "encoding":{"x":{"datum":13.9,"type":"quantitative","axis":null},"y":{"datum":5.6,"type":"quantitative","scale":{"domain":[0,40],"nice":false,"zero":false,"range":[626,327]},"axis":null},"text":{"value":"van Driest Formula"}}},
{"data":{"values":[{}]},
 "mark":{"type":"rule","color":"black","strokeWidth":2},
 "encoding":{"x":{"datum":15.5,"type":"quantitative","axis":null},"x2":{"datum":25.0},"y":{"datum":33.1,"type":"quantitative","scale":{"domain":[0,40],"nice":false,"zero":false,"range":[626,327]},"axis":null},"y2":{"datum":27.0}}},
{"data":{"values":[{}]},
 "mark":{"type":"point","shape":"M0,0L-0.55,1.7L0.55,1.7Z","filled":true,"size":234,"color":"black","opacity":1,"angle":140},
 "encoding":{"x":{"datum":25.0,"type":"quantitative","axis":null},"y":{"datum":27.0,"type":"quantitative","scale":{"domain":[0,40],"nice":false,"zero":false,"range":[626,327]},"axis":null}}},
{"data":{"values":[{}]},
 "mark":{"type":"rule","color":"black","strokeWidth":2},
 "encoding":{"x":{"datum":37.9,"type":"quantitative","axis":null},"x2":{"datum":58.9},"y":{"datum":7.2,"type":"quantitative","scale":{"domain":[0,40],"nice":false,"zero":false,"range":[626,327]},"axis":null},"y2":{"datum":13.7}}},
{"data":{"values":[{}]},
 "mark":{"type":"point","shape":"M0,0L-0.55,1.7L0.55,1.7Z","filled":true,"size":234,"color":"black","opacity":1,"angle":36},
 "encoding":{"x":{"datum":58.9,"type":"quantitative","axis":null},"y":{"datum":13.7,"type":"quantitative","scale":{"domain":[0,40],"nice":false,"zero":false,"range":[626,327]},"axis":null}}}
],
"resolve":{"scale":{"y":"independent","shape":"independent"},"axis":{"x":"independent","y":"independent"},"legend":{"shape":"independent"}},
"config":{
 "view":{"stroke":null},
 "font":"Liberation Serif",
 "axis":{"labelFont":"Liberation Serif","labelFontSize":21,"labelColor":"black","grid":false,"titleFont":"Liberation Serif","titleColor":"black","labelFlush":false,"labelOverlap":false}
}
}
